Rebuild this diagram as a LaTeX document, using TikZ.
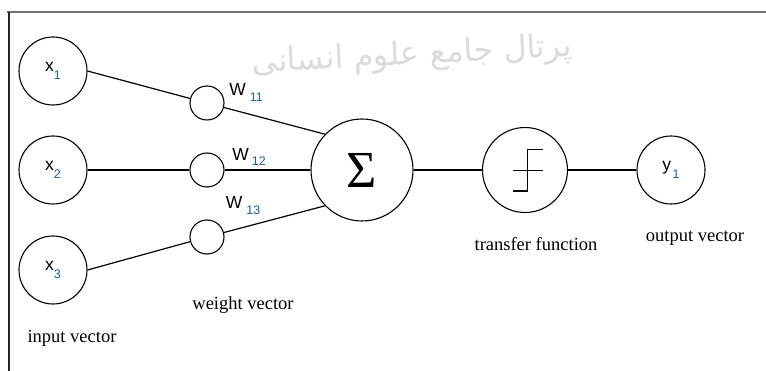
\documentclass[tikz,border=0pt]{standalone}
\usepackage{fontspec}
\setmainfont{Liberation Serif}
\newfontfamily\arialf{Liberation Sans}
\newfontfamily\arabicfont[Script=Arabic]{DejaVu Sans}
\TeXXeTstate=1
\definecolor{subblue}{HTML}{1E5E9E}
\newcommand\varlab[4]{{\arialf\fontsize{17.5}{18}\selectfont #1\hspace{#3}\raisebox{-#4}{\fontsize{12.5}{13}\selectfont\color{subblue}#2}}}
\begin{document}
\begin{tikzpicture}[x=1pt,y=-1pt,
  inp/.style={draw, circle, minimum size=68pt, inner sep=0pt, line width=1.1pt},
  wt/.style={draw, circle, minimum size=34pt, inner sep=0pt, line width=1.1pt},
  conn/.style={line width=1.2pt},
  captxt/.style={font=\fontsize{18.5}{20}\selectfont, inner sep=0pt}]
\useasboundingbox (0,0) rectangle (766,371);
% watermark
\node[text=black!14, rotate=3, font=\arabicfont\fontsize{32}{32}\selectfont, inner sep=0pt] (wm) at (412,56) {\beginR پرتال جامع علوم انسانی\endR};
% frame
\draw[black!55, line width=1.3pt] (7,12) -- (766,12);
\draw[black!85, line width=1.2pt] (9,12) -- (9,371);
% nodes
\node[inp] (x1) at (53,71) {\varlab{x}{1}{0pt}{7.5pt}};
\node[inp] (x2) at (53,170) {\varlab{x}{2}{0pt}{7.5pt}};
\node[inp] (x3) at (53,270) {\varlab{x}{3}{0pt}{7.5pt}};
\node[wt] (w1) at (207,103) {};
\node[wt] (w2) at (207,170) {};
\node[wt] (w3) at (207,237) {};
\node[draw, circle, minimum size=102pt, inner sep=0pt, line width=1.1pt] (sum) at (362,170) {\fontsize{52}{52}\selectfont Σ};
\node[draw, circle, minimum size=85pt, inner sep=0pt, line width=1.1pt] (tf) at (525,170) {};
\node[inp] (y1) at (671,170) {\varlab{y}{1}{1.5pt}{7.5pt}};
% weight labels
\node[inner sep=0pt] (l11) at (246,92) {\varlab{W}{11}{4pt}{6pt}};
\node[inner sep=0pt] (l12) at (249,157) {\varlab{W}{12}{3pt}{5pt}};
\node[inner sep=0pt] (l13) at (243,206) {\varlab{W}{13}{4pt}{6pt}};
% captions
\node[captxt] (cin) at (72,338) {input vector};
\node[captxt] (cwt) at (243,305) {weight vector};
\node[captxt] (ctf) at (536,244) {transfer function};
\node[captxt] (cout) at (695,238) {output vector};
% connectors
\draw[conn] (x1.east) -- (w1);
\draw[conn] (w1) -- (sum.136);
\draw[conn] (x2) -- (w2);
\draw[conn] (w2) -- (sum);
\draw[conn] (x3.east) -- (w3);
\draw[conn] (w3) -- (sum.224);
\draw[conn] (sum) -- (tf);
\draw[conn] (tf) -- (y1);
% step symbol
\draw[line width=1.1pt] ([shift={(-11.7,21)}]tf.center) -- ++(14,0) -- ++(0,-41.7) -- ++(16,0);
\draw[line width=1.1pt] ([shift={(-11.7,0.7)}]tf.center) -- ++(30,0);
\end{tikzpicture}
\end{document}
